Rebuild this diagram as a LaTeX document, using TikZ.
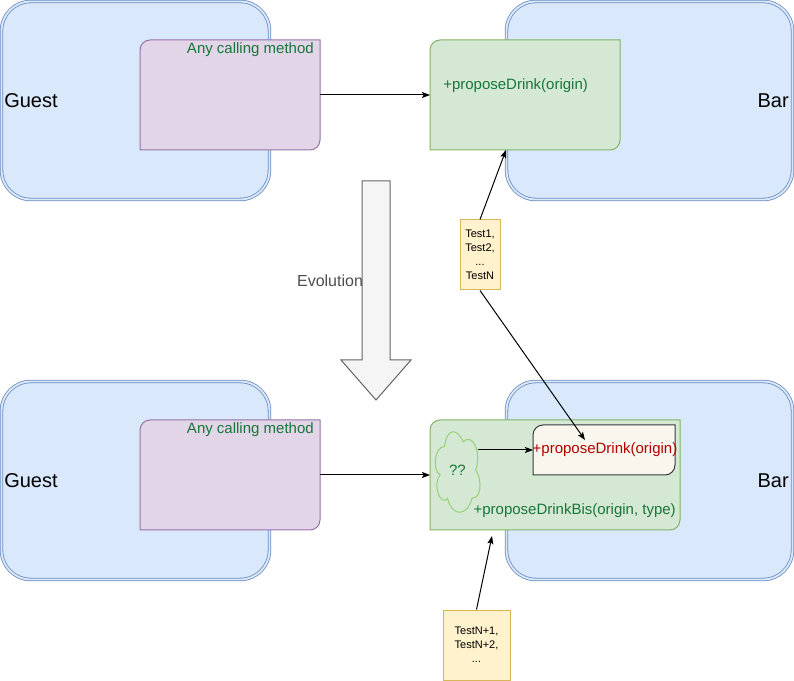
\documentclass[tikz,border=0pt]{standalone}
\usepackage{fontspec}
\setmainfont{Liberation Sans}
\usetikzlibrary{arrows.meta,calc}
\definecolor{bluef}{HTML}{DAE8FC}
\definecolor{blues}{HTML}{6C8EBF}
\definecolor{purpf}{HTML}{E1D5E7}
\definecolor{purps}{HTML}{9673A6}
\definecolor{greenf}{HTML}{D5E8D4}
\definecolor{greens}{HTML}{82B366}
\definecolor{cloudc}{HTML}{97D077}
\definecolor{txtgreen}{HTML}{17773A}
\definecolor{txtred}{HTML}{B20000}
\definecolor{yellf}{HTML}{FFF2CC}
\definecolor{yells}{HTML}{D6B656}
\definecolor{innerf}{HTML}{F9F7ED}
\definecolor{inners}{HTML}{36393D}
\definecolor{evof}{HTML}{F5F5F5}
\definecolor{evos}{HTML}{666666}
\definecolor{evot}{HTML}{4D4D4D}
\newcommand\cutbox[3]{%
  \draw[#2] ([yshift=-#3]#1.north west)
      .. controls ([yshift=-0.45*#3]#1.north west) and ([xshift=0.45*#3]#1.north west) .. ([xshift=#3]#1.north west)
    -- (#1.north east) -- ([yshift=#3]#1.south east)
      .. controls ([yshift=0.45*#3]#1.south east) and ([xshift=-0.45*#3]#1.south east) .. ([xshift=-#3]#1.south east)
    -- (#1.south west) -- cycle;}
\begin{document}
\begin{tikzpicture}[x=0.75pt,y=-0.75pt,
  bigbox/.style={rectangle, rounded corners=22pt, draw=blues, double=bluef, double distance=1.4pt,
    line width=0.6pt, fill=bluef, inner sep=0pt, outer sep=0pt},
  frame/.style={rectangle, draw=none, inner sep=0pt, outer sep=0pt},
  purpshape/.style={fill=purpf, draw=purps, line width=0.75pt},
  greenshape/.style={fill=greenf, draw=greens, line width=0.75pt},
  innershape/.style={fill=innerf, draw=inners, line width=0.75pt},
  big/.style={font=\fontsize{15pt}{18pt}\selectfont, inner sep=0pt},
  norm/.style={font=\fontsize{11.25pt}{13.5pt}\selectfont, inner sep=0pt},
  note/.style={rectangle, fill=yellf, draw=yells, line width=0.75pt, inner sep=0pt, align=center,
    font=\fontsize{8.25pt}{10.5pt}\selectfont},
  arr/.style={line width=0.75pt, -{Stealth[length=6pt,width=4.5pt,inset=1.2pt]}}]
\useasboundingbox (0,0) rectangle (794,681);

% big boxes
\node[bigbox, minimum width=268*0.75pt, minimum height=198*0.75pt] (guest1) at (135.5,100.5) {};
\node[bigbox, minimum width=286*0.75pt, minimum height=198*0.75pt] (bar1) at (649.5,100.5) {};
\node[bigbox, minimum width=268*0.75pt, minimum height=198*0.75pt] (guest2) at (135.5,480.5) {};
\node[bigbox, minimum width=286*0.75pt, minimum height=198*0.75pt] (bar2) at (649.5,480.5) {};
\node[big, anchor=west] (guestl1) at (4,101) {Guest};
\node[big, anchor=east] (barl1) at (789,101) {Bar};
\node[big, anchor=west] (guestl2) at (4,481) {Guest};
\node[big, anchor=east] (barl2) at (789,481) {Bar};

% top method boxes
\node[frame, minimum width=180*0.75pt, minimum height=110*0.75pt] (call1) at (230,95) {};
\cutbox{call1}{purpshape}{7.5pt}
\node[norm, anchor=east, text=txtgreen] (callt1) at (314,50) {Any calling method};
\node[frame, minimum width=190*0.75pt, minimum height=110*0.75pt] (prop1) at (525,95) {};
\cutbox{prop1}{greenshape}{7.5pt}
\node[norm, anchor=west, text=txtgreen] (propt1) at (443,86) {+proposeDrink(origin)};
\draw[arr] (call1.east) -- (prop1.west);

% bottom method boxes
\node[frame, minimum width=180*0.75pt, minimum height=110*0.75pt] (call2) at (230,475) {};
\cutbox{call2}{purpshape}{7.5pt}
\node[norm, anchor=east, text=txtgreen] (callt2) at (314,430) {Any calling method};
\node[frame, minimum width=250*0.75pt, minimum height=110*0.75pt] (prop2) at (555,475) {};
\cutbox{prop2}{greenshape}{7.5pt}
\node[norm, anchor=east, text=txtgreen] (propt2) at (676,511) {+proposeDrinkBis(origin, type)};
\node[frame, minimum width=142*0.75pt, minimum height=50*0.75pt] (inner) at (604,450) {};
\cutbox{inner}{innershape}{7.5pt}
\node[norm, text=txtred] (innert) at (605,450) {+proposeDrink(origin)};
% cloud
\draw[fill=greenf, draw=cloudc, line width=0.75pt, shift={(432,423)}, xscale=50, yscale=94]
  (0.25,0.25) .. controls (0.05,0.25) and (0,0.5) .. (0.16,0.55)
  .. controls (0,0.66) and (0.18,0.9) .. (0.31,0.8)
  .. controls (0.4,1) and (0.7,1) .. (0.8,0.8)
  .. controls (1,0.8) and (1,0.6) .. (0.875,0.5)
  .. controls (1,0.3) and (0.8,0.1) .. (0.625,0.2)
  .. controls (0.5,0.05) and (0.3,0.05) .. (0.25,0.25) -- cycle;
\node[norm, text=txtgreen] (cl) at (457.5,470) {??};
\coordinate (cle) at (478,450);
\draw[arr] (call2.east) -- (prop2.west);
\draw[arr] (cle) -- (inner.west);

% evolution arrow
\draw[fill=evof, draw=evos, line width=0.75pt] (362,181) -- (390,181) -- (390,360) -- (411,360)
  -- (376,400) -- (341,360) -- (362,360) -- cycle;
\node[font=\fontsize{12pt}{14pt}\selectfont, text=evot, inner sep=0pt] (evo) at (330,281) {Evolution};

% notes
\node[note, minimum width=40*0.75pt, minimum height=70*0.75pt] (note1) at (480,255)
  {Test1,\\Test2,\\...\\TestN};
\node[note, minimum width=67*0.75pt, minimum height=70*0.75pt] (note2) at (476.5,645)
  {TestN+1,\\TestN+2,\\...};
\coordinate (t1) at (506,150);
\coordinate (t2) at (585,440);
\coordinate (t3) at (492,536);
\draw[arr] (note1.north) -- (t1);
\draw[arr] (note1.south) -- (t2);
\draw[arr] (note2.north) -- (t3);
\end{tikzpicture}
\end{document}
